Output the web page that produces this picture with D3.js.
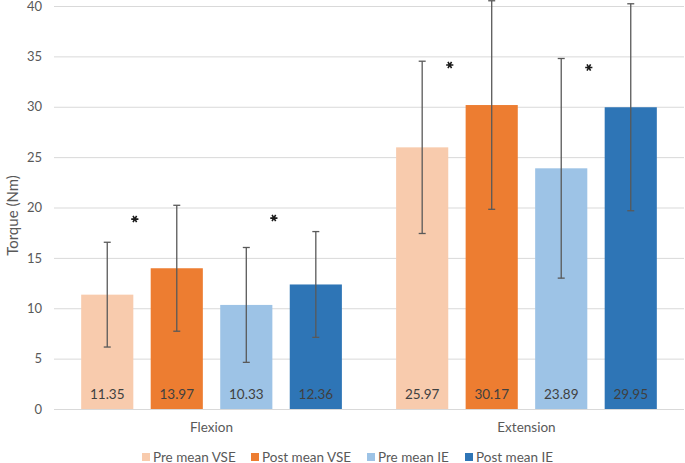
<!DOCTYPE html>
<html>
<head>
<meta charset="utf-8">
<script src="https://cdn.jsdelivr.net/npm/d3@7"></script>
<style>
  body { margin: 0; background: #fff; }
  svg text { font-family: Lato, "Open Sans", sans-serif; }
</style>
</head>
<body>
<svg id="chart" width="685" height="463"></svg>
<script>
var groups = ['Flexion', 'Extension'],
    series = ['Pre mean VSE', 'Post mean VSE', 'Pre mean IE', 'Post mean IE'],
    colors = ['#f8cbad', '#ed7d31', '#9dc3e6', '#2e75b6'];

// means per group, in series order
var means = [
    [11.35, 13.97, 10.33, 12.36],
    [25.97, 30.17, 23.89, 29.95]
];
// error bar half widths (SD)
var sds = [
    [5.2, 6.25, 5.7, 5.25],
    [8.55, 10.35, 10.9, 10.27]
];
// asterisks: group, after series index, y value (centre)
var stars = [
    { g: 'Flexion', s: 0, y: 18.85 },
    { g: 'Flexion', s: 2, y: 18.95 },
    { g: 'Extension', s: 0, y: 34.15 },
    { g: 'Extension', s: 2, y: 33.9 }
];
var yTicks = [0, 5, 10, 15, 20, 25, 30, 35, 40];

var svg = d3.select('#chart'),
    plotL = 54, plotR = 684, plotT = 6, plotB = 409;

var y = d3.scaleLinear().domain([0, 40]).range([plotB, plotT]);
var x0 = d3.scaleBand().domain(groups).range([plotL, plotR])
    .paddingInner(0.117).paddingOuter(0.0587);
var x1 = d3.scaleBand().domain(series).range([0, x0.bandwidth()])
    .paddingInner(0.25).paddingOuter(0.125);

// grid
svg.append('g').selectAll('line').data(yTicks).join('line')
    .attr('x1', plotL).attr('x2', plotR)
    .attr('y1', d => y(d) + 0.5).attr('y2', d => y(d) + 0.5)
    .attr('stroke', '#d9d9d9').attr('stroke-width', 1);

// y axis labels
var yAxis = svg.append('g').attr('transform', 'translate(' + (plotL - 12) + ',0)')
    .call(d3.axisLeft(y).tickValues(yTicks).tickSize(0).tickPadding(0));
yAxis.select('.domain').remove();
yAxis.selectAll('text').attr('fill', '#595959').style('font-size', '13px')
    .style('font-family', 'Lato, "Open Sans", sans-serif');

svg.append('text')
    .attr('transform', 'translate(13,' + ((plotT + plotB) / 2 + 8) + ') rotate(-90)')
    .attr('text-anchor', 'middle').attr('dy', '0.35em')
    .attr('fill', '#595959').style('font-size', '15px')
    .text('Torque (Nm)');

// bars
var rows = [];
groups.forEach((g, gi) => {
    series.forEach((s, si) => {
        rows.push({ g: g, s: s, si: si, v: means[gi][si], sd: sds[gi][si] });
    });
});

var bars = svg.append('g').selectAll('g').data(rows).join('g')
    .attr('transform', d => 'translate(' + (x0(d.g) + x1(d.s)) + ',0)');

bars.append('rect')
    .attr('x', 0).attr('width', x1.bandwidth())
    .attr('y', d => y(d.v)).attr('height', d => y(0) - y(d.v))
    .attr('fill', d => colors[d.si]);

bars.append('text')
    .attr('x', x1.bandwidth() / 2).attr('y', 394)
    .attr('dy', '0.35em').attr('text-anchor', 'middle')
    .attr('fill', '#404040').style('font-size', '13.5px')
    .text(d => d.v.toFixed(2));

// error bars
var cx = x1.bandwidth() / 2, cap = 3.5;
bars.append('line')
    .attr('x1', cx).attr('x2', cx)
    .attr('y1', d => y(d.v + d.sd)).attr('y2', d => y(d.v - d.sd))
    .attr('stroke', '#595959').attr('stroke-width', 1.3);
bars.append('line')
    .attr('x1', cx - cap).attr('x2', cx + cap)
    .attr('y1', d => y(d.v + d.sd)).attr('y2', d => y(d.v + d.sd))
    .attr('stroke', '#595959').attr('stroke-width', 1.3);
bars.append('line')
    .attr('x1', cx - cap).attr('x2', cx + cap)
    .attr('y1', d => y(d.v - d.sd)).attr('y2', d => y(d.v - d.sd))
    .attr('stroke', '#595959').attr('stroke-width', 1.3);

// asterisks (drawn as symbols)
var star = d3.symbol().type(d3.symbolAsterisk).size(36);
svg.append('g').selectAll('path').data(stars).join('path')
    .attr('transform', d => 'translate(' + (x0(d.g) + x1(series[d.s]) + x1.bandwidth() + 1.5) + ',' + y(d.y) + ') rotate(90)')
    .attr('d', star)
    .attr('fill', 'none').attr('stroke', '#1a1a1a').attr('stroke-width', 1.6);

// category labels
svg.append('g').selectAll('text').data(groups).join('text')
    .attr('x', d => x0(d) + x0.bandwidth() / 2).attr('y', 427)
    .attr('dy', '0.35em').attr('text-anchor', 'middle')
    .attr('fill', '#595959').style('font-size', '13.5px')
    .text(d => d);

// legend
var legX = [142, 251, 367, 465];
var leg = svg.append('g').selectAll('g').data(series).join('g')
    .attr('transform', (d, i) => 'translate(' + legX[i] + ',453)');
leg.append('rect').attr('width', 8).attr('height', 8)
    .attr('fill', (d, i) => colors[i]);
leg.append('text').attr('x', 11).attr('y', 4).attr('dy', '0.35em')
    .attr('fill', '#595959').style('font-size', '13.5px')
    .text(d => d);
</script>
</body>
</html>
